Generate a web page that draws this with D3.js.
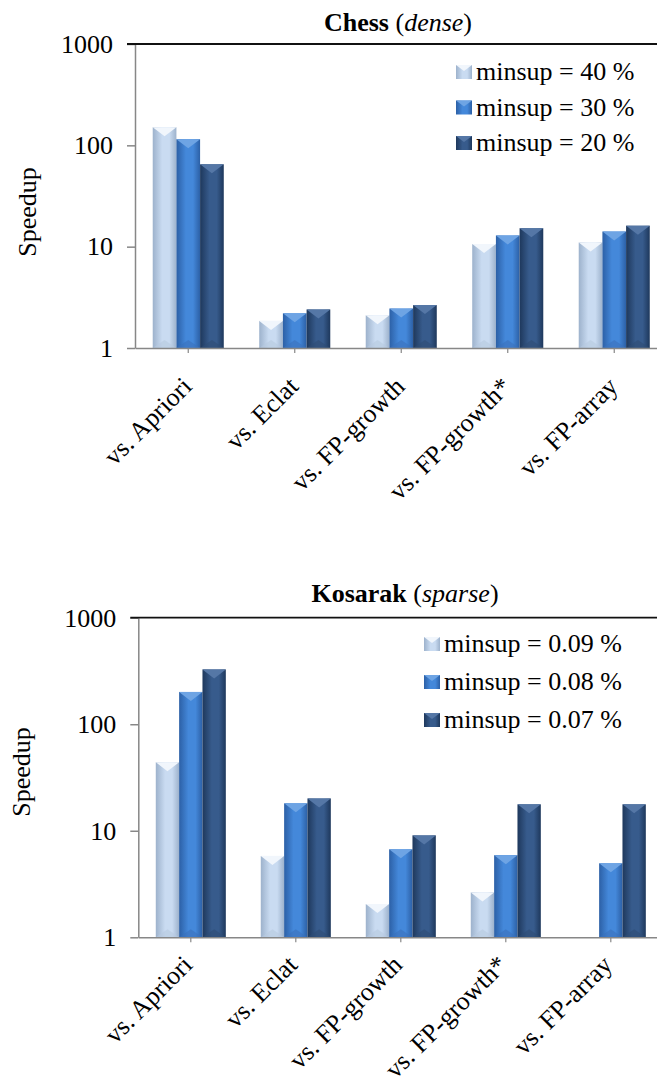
<!DOCTYPE html>
<html>
<head>
<meta charset="utf-8">
<script src="https://cdn.jsdelivr.net/npm/d3@7"></script>
<style>
  body { margin: 0; background: #fff; }
  svg { display: block; }
  svg text { font-family: "Liberation Serif", "Times New Roman", serif !important; }
</style>
</head>
<body>
<script>
// categories shared by both charts
var categories = ["vs. Apriori", "vs. Eclat", "vs. FP-growth", "vs. FP-growth*", "vs. FP-array"];
var yTicks = [1, 10, 100, 1000];

// Chess (dense)
var chessSeries = ["minsup = 40 %", "minsup = 30 %", "minsup = 20 %"];
var chess40 = [151, 1.85, 2.1, 10.6, 11.0];
var chess30 = [115, 2.2, 2.45, 12.9, 14.1];
var chess20 = [65, 2.4, 2.65, 15.2, 16.1];

// Kosarak (sparse)
var kosarakSeries = ["minsup = 0.09 %", "minsup = 0.08 %", "minsup = 0.07 %"];
var kosarak009 = [44, 5.8, 2.05, 2.64, null];
var kosarak008 = [201, 18.1, 6.7, 5.9, 4.95];
var kosarak007 = [327, 20.1, 9.05, 17.7, 17.7];

var width = 657, height = 1083;
var serif = "Liberation Serif, Times New Roman, serif";

var svg = d3.select("body").append("svg")
    .attr("width", width)
    .attr("height", height)
    .attr("font-family", serif);

// bar looks: gradient edge / centre, top bevel, bottom bevel
var looks = [
  {edge: "#9db2cc", mid: "#c9dbf1", top: "#f1f6fc", bot: "#b7c9df"},
  {edge: "#2c60a6", mid: "#4488da", top: "#6ea4e4", bot: "#3a72bd"},
  {edge: "#1e385c", mid: "#375b8c", top: "#5577a6", bot: "#2e4c75"}
];

var defs = svg.append("defs");
looks.forEach(function(l, i){
  var g = defs.append("linearGradient").attr("id", "bar" + i)
      .attr("x1", "0%").attr("x2", "100%").attr("y1", "0%").attr("y2", "0%");
  g.append("stop").attr("offset", "0%").attr("stop-color", l.edge);
  g.append("stop").attr("offset", "40%").attr("stop-color", l.mid);
  g.append("stop").attr("offset", "70%").attr("stop-color", l.mid);
  g.append("stop").attr("offset", "100%").attr("stop-color", l.edge);
});

function drawChart(cfg){
  var g = svg.append("g");

  var x = d3.scaleBand()
      .domain(categories)
      .range([cfg.left, cfg.left + cfg.step * categories.length])
      .paddingInner(0.333)
      .paddingOuter(0.1665);

  var sx = d3.scaleBand()
      .domain(d3.range(cfg.series.length))
      .range([0, x.bandwidth()]);

  var y = d3.scaleLog()
      .domain([1, 1000])
      .range([cfg.bottom, cfg.top]);

  // bars
  cfg.values.forEach(function(vals, si){
    var l = looks[si];
    var bars = g.append("g").selectAll("g")
      .data(vals.map(function(v, ci){ return {c: categories[ci], v: v}; })
                .filter(function(d){ return d.v != null; }))
      .enter().append("g");

    bars.append("rect")
      .attr("x", function(d){ return x(d.c) + sx(si); })
      .attr("y", function(d){ return y(d.v); })
      .attr("width", sx.bandwidth())
      .attr("height", function(d){ return y(1) - y(d.v); })
      .attr("fill", "url(#bar" + si + ")");

    var w = sx.bandwidth();
    bars.append("path")
      .attr("d", function(d){
        var bx = x(d.c) + sx(si), by = y(d.v);
        return "M" + bx + "," + by + "L" + (bx + w) + "," + by +
               "L" + (bx + w / 2) + "," + (by + 9) + "Z";
      })
      .attr("fill", l.top);

    bars.append("path")
      .attr("d", function(d){
        var bx = x(d.c) + sx(si), by = y(1);
        return "M" + bx + "," + by + "L" + (bx + w) + "," + by +
               "L" + (bx + w / 2) + "," + (by - 8) + "Z";
      })
      .attr("fill", l.bot)
      .attr("opacity", 0.6);
  });

  // left axis
  var ay = g.append("g")
      .attr("transform", "translate(" + cfg.left + ",0)")
      .call(d3.axisLeft(y).tickValues(yTicks).tickFormat(d3.format("d")).tickSize(8).tickSizeOuter(0).tickPadding(14));
  ay.attr("font-family", serif).attr("font-size", 26);
  ay.select(".domain").attr("stroke", "#878787").attr("stroke-width", 1.5);
  ay.selectAll(".tick line").attr("stroke", "#878787").attr("stroke-width", 1.5);
  ay.selectAll(".tick text").attr("fill", "#000");

  // bottom axis
  var ax = g.append("g")
      .attr("transform", "translate(0," + cfg.bottom + ")")
      .call(d3.axisBottom(x).tickSize(5).tickSizeOuter(0));
  ax.attr("font-family", serif).attr("font-size", 26);
  ax.select(".domain").attr("stroke", "#878787").attr("stroke-width", 1.5);
  ax.selectAll(".tick line").attr("stroke", "#878787").attr("stroke-width", 1.2);
  ax.selectAll(".tick text")
    .attr("fill", "#000")
    .attr("text-anchor", "end")
    .attr("y", 0)
    .attr("dy", 0)
    .attr("transform", "translate(" + cfg.labDx + "," + cfg.labDy + ") rotate(-45)");

  // top frame line
  g.append("line")
    .attr("x1", cfg.left - 8).attr("x2", width + 20)
    .attr("y1", cfg.top).attr("y2", cfg.top)
    .attr("stroke", "#111")
    .attr("stroke-width", 1.8);

  // y label
  g.append("text")
    .attr("transform", "translate(" + cfg.ylabX + "," + cfg.ylabY + ") rotate(-90)")
    .attr("text-anchor", "middle")
    .attr("font-size", 26)
    .text("Speedup");

  // title
  var t = g.append("text")
    .attr("x", cfg.titleX)
    .attr("y", cfg.titleY)
    .attr("text-anchor", "middle")
    .attr("font-size", 26);
  t.append("tspan").attr("font-weight", "bold").text(cfg.title[0] + " ");
  t.append("tspan").text("(");
  t.append("tspan").attr("font-style", "italic").text(cfg.title[1]);
  t.append("tspan").text(")");

  // legend
  var lg = g.append("g").selectAll("g")
    .data(cfg.series)
    .enter().append("g")
    .attr("transform", function(d, i){ return "translate(" + cfg.legX + "," + (cfg.legY + i * cfg.legStep) + ")"; });
  lg.append("rect")
    .attr("x", 0).attr("y", -15)
    .attr("width", 16).attr("height", 14)
    .attr("fill", function(d, i){ return "url(#bar" + i + ")"; });
  lg.append("path")
    .attr("d", "M0,-15L16,-15L8,-9Z")
    .attr("fill", function(d, i){ return looks[i].top; });
  lg.append("text")
    .attr("x", 20)
    .attr("y", 0)
    .attr("font-size", 26)
    .text(function(d){ return d; });
}

drawChart({
  left: 135, step: 106.5, top: 44, bottom: 348,
  series: chessSeries, values: [chess40, chess30, chess20],
  title: ["Chess", "dense"], titleX: 398, titleY: 31,
  ylabX: 36, ylabY: 212,
  legX: 456, legY: 80, legStep: 35.5,
  labDx: 5, labDy: 40
});

drawChart({
  left: 138.3, step: 105, top: 617.7, bottom: 937.3,
  series: kosarakSeries, values: [kosarak009, kosarak008, kosarak007],
  title: ["Kosarak", "sparse"], titleX: 405, titleY: 602,
  ylabX: 30, ylabY: 772,
  legX: 424, legY: 652, legStep: 38,
  labDx: 3, labDy: 29
});
</script>
</body>
</html>
